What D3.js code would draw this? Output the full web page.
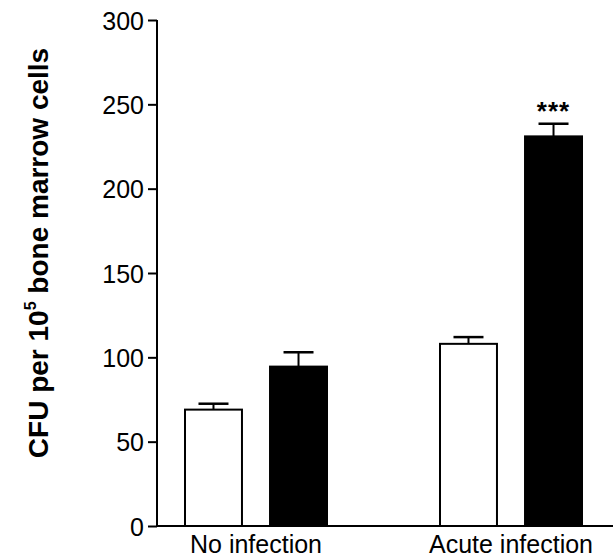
<!DOCTYPE html>
<html lang="en">
<head>
    <meta charset="UTF-8">
    <title>CFU per 10^5 bone marrow cells</title>
    <style>
        body, html {
            margin: 0;
            padding: 0;
            width: 100%;
            height: 100%;
            overflow: hidden;
            background: #fff;
        }
        text {
            font-family: "Liberation Sans", Arial, sans-serif;
            fill: #000;
        }
    </style>
</head>
<body>
    <script src="https://d3js.org/d3.v7.min.js"></script>
    <script>
        // data
        var groups = ["No infection", "Acute infection"];
        var series = ["control", "treated"];
        var means = [[69, 94.5], [108, 231]];
        var errors = [[3.5, 8.5], [4, 7.5]];
        var yTicks = [0, 50, 100, 150, 200, 250, 300];
        var stars = [["", ""], ["", "***"]];

        var width = 613;
        var height = 557;

        var svg = d3.select("body")
            .append("svg")
            .attr("width", width)
            .attr("height", height);

        // scales
        var y = d3.scaleLinear()
            .domain([0, 300])
            .range([526, 20]);

        var xGroup = d3.scalePoint()
            .domain(groups)
            .range([256, 511]);

        var xSeries = d3.scaleBand()
            .domain(series)
            .range([-71, 71])
            .paddingInner(0.33);

        var fills = {control: "#fff", treated: "#000"};

        // y axis
        var yAxis = svg.append("g")
            .attr("transform", "translate(157,0)")
            .call(d3.axisLeft(y).tickValues(yTicks).tickSize(9).tickPadding(4));
        yAxis.selectAll("path, line").attr("stroke", "#000").attr("stroke-width", 2);
        yAxis.select(".domain").attr("d", "M0," + y(300) + "V" + y(0));
        yAxis.selectAll("text")
            .style("font-size", "25px")
            .attr("dy", "0.36em");

        // x axis baseline
        svg.append("line")
            .attr("x1", 157).attr("x2", width)
            .attr("y1", y(0)).attr("y2", y(0))
            .attr("stroke", "#000")
            .attr("stroke-width", 2);

        // bars
        var rows = [];
        groups.forEach(function(g, i) {
            series.forEach(function(s, j) {
                rows.push({group: g, series: s, value: means[i][j], err: errors[i][j], star: stars[i][j]});
            });
        });

        var bars = svg.append("g").selectAll("g")
            .data(rows)
            .enter()
            .append("g")
            .attr("transform", function(d) { return "translate(" + (xGroup(d.group) + xSeries(d.series)) + ",0)"; });

        var bw = xSeries.bandwidth();

        // error bars (upper only)
        bars.append("line")
            .attr("x1", bw / 2).attr("x2", bw / 2)
            .attr("y1", function(d) { return y(d.value); })
            .attr("y2", function(d) { return y(d.value + d.err); })
            .attr("stroke", "#000").attr("stroke-width", 2);
        bars.append("line")
            .attr("x1", bw / 2 - 15).attr("x2", bw / 2 + 15)
            .attr("y1", function(d) { return y(d.value + d.err); })
            .attr("y2", function(d) { return y(d.value + d.err); })
            .attr("stroke", "#000").attr("stroke-width", 2.5);

        bars.append("rect")
            .attr("x", 0)
            .attr("width", bw)
            .attr("y", function(d) { return y(d.value); })
            .attr("height", function(d) { return y(0) - y(d.value); })
            .attr("fill", function(d) { return fills[d.series]; })
            .attr("stroke", "#000")
            .attr("stroke-width", 2);

        bars.append("text")
            .attr("x", bw / 2)
            .attr("y", function(d) { return y(d.value + d.err) - 4; })
            .attr("text-anchor", "middle")
            .style("font-size", "26px")
            .style("font-weight", "bold")
            .style("letter-spacing", "1px")
            .text(function(d) { return d.star; });

        // group labels
        svg.append("g").selectAll("text")
            .data(groups)
            .enter()
            .append("text")
            .attr("x", function(d) { return xGroup(d); })
            .attr("y", 553)
            .attr("text-anchor", "middle")
            .style("font-size", "25px")
            .text(function(d) { return d; });

        // y title
        var title = svg.append("text")
            .attr("transform", "translate(48,253) rotate(-90)")
            .attr("text-anchor", "middle")
            .style("font-size", "28px")
            .style("font-weight", "bold");
        title.append("tspan").text("CFU per 10");
        title.append("tspan").attr("dy", -12).style("font-size", "16px").text("5");
        title.append("tspan").attr("dy", 12).text(" bone marrow cells");
    </script>
</body>
</html>
